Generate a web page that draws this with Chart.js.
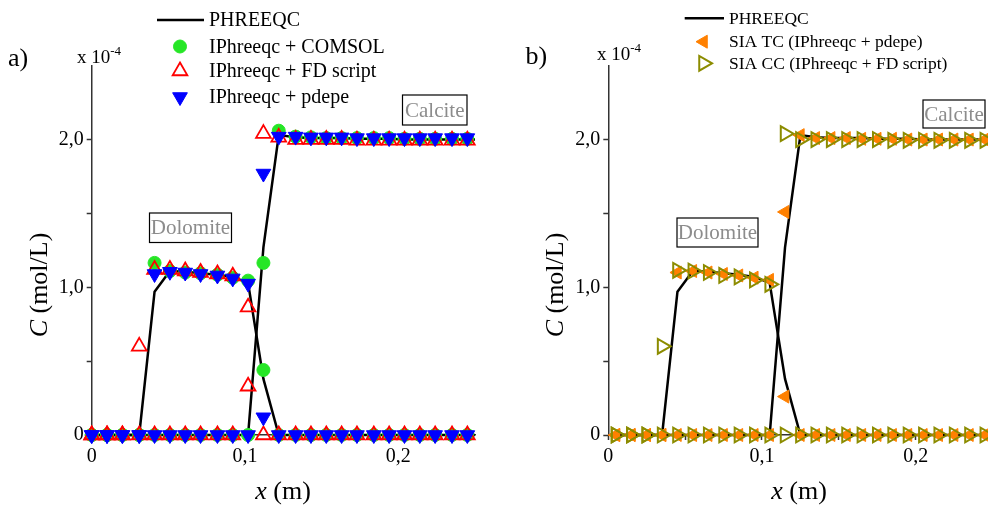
<!DOCTYPE html>
<html lang="en">
<head>
<meta charset="UTF-8">
<title>Dolomita y calcita - PHREEQC vs IPhreeqc</title>
<script src="https://cdn.jsdelivr.net/npm/chart.js"></script>
<style>
  html, body { margin: 0; padding: 0; background: #fff; }
  body { width: 988px; height: 505px; overflow: hidden; position: relative; }
  canvas { position: absolute; top: 0; }
  #chartA { left: 0; }
  #chartB { left: 494px; }
</style>
</head>
<body>
<canvas id="chartA" width="494" height="505"></canvas>
<canvas id="chartB" width="520" height="505"></canvas>
<script>
// ---- data, C in 10^-4 mol/L ----
// panel a) grid
const xA = [0, 0.010, 0.020, 0.031, 0.041, 0.051, 0.061, 0.071, 0.082, 0.092, 0.102, 0.112, 0.122,
            0.133, 0.143, 0.153, 0.163, 0.173, 0.184, 0.194, 0.204, 0.214, 0.224, 0.235, 0.245];
// panel b) grid
const xB = [0.005, 0.015, 0.025, 0.035, 0.045, 0.055, 0.065, 0.075, 0.085, 0.095, 0.105, 0.115, 0.125,
            0.135, 0.145, 0.155, 0.165, 0.175, 0.185, 0.195, 0.205, 0.215, 0.225, 0.235, 0.245];
const xEnd = [0.25];

// PHREEQC reference (last value = right end of the column)
const phreeqcDolomite = [0, 0, 0, 0, 0.97, 1.11, 1.105, 1.095, 1.085, 1.07, 1.03, 0.38, 0,
                         0, 0, 0, 0, 0, 0, 0, 0, 0, 0, 0, 0, 0];
const phreeqcCalcite  = [0, 0, 0, 0, 0, 0, 0, 0, 0, 0, 0, 1.27, 2.03,
                         2.015, 2.01, 2.01, 2.01, 2.005, 2.005, 2.005, 2.0, 2.0, 2.0, 2.0, 2.0, 2.0];

// a) IPhreeqc + COMSOL
const comsolDolomite = [0, 0, 0, 0, 1.165, 1.11, 1.10, 1.095, 1.085, 1.065, 1.045, 0.44, 0,
                        0, 0, 0, 0, 0, 0, 0, 0, 0, 0, 0, 0];
const comsolCalcite  = [0, 0, 0, 0, 0, 0, 0, 0, 0, 0, 0, 1.165, 2.06,
                        2.02, 2.015, 2.01, 2.01, 2.01, 2.01, 2.01, 2.005, 2.005, 2.005, 2.005, 2.005];
// a) IPhreeqc + FD script
const fdDolomite = [0, 0, 0, 0.60, 1.12, 1.12, 1.11, 1.10, 1.09, 1.075, 0.865, 0, 0,
                    0, 0, 0, 0, 0, 0, 0, 0, 0, 0, 0, 0];
const fdCalcite  = [0, 0, 0, 0, 0, 0, 0, 0, 0, 0, 0.33, 2.04, 2.015,
                    2.0, 2.0, 2.0, 2.0, 1.995, 1.995, 1.995, 1.995, 1.995, 1.995, 1.995, 1.995];
// a) IPhreeqc + pdepe
const pdepeDolomite = [0, 0, 0, 0, 1.09, 1.105, 1.10, 1.09, 1.08, 1.06, 1.025, 0.12, 0,
                       0, 0, 0, 0, 0, 0, 0, 0, 0, 0, 0, 0];
const pdepeCalcite  = [0, 0, 0, 0, 0, 0, 0, 0, 0, 0, 0, 1.77, 2.02,
                       2.02, 2.015, 2.015, 2.015, 2.01, 2.01, 2.01, 2.01, 2.01, 2.01, 2.01, 2.01];

// b) SIA TC (IPhreeqc + pdepe)
const tcDolomite = [0, 0, 0, 0, 1.10, 1.11, 1.10, 1.09, 1.08, 1.065, 1.05, 0.26, 0,
                    0, 0, 0, 0, 0, 0, 0, 0, 0, 0, 0, 0];
const tcCalcite  = [0, 0, 0, 0, 0, 0, 0, 0, 0, 0, 0, 1.51, 2.03,
                    2.01, 2.01, 2.01, 2.005, 2.005, 2.005, 2.0, 2.0, 2.0, 2.0, 2.0, 2.0];
// b) SIA CC (IPhreeqc + FD script)
const ccDolomite = [0, 0, 0, 0.60, 1.115, 1.11, 1.10, 1.08, 1.07, 1.05, 1.02, 0, 0,
                    0, 0, 0, 0, 0, 0, 0, 0, 0, 0, 0, 0];
const ccCalcite  = [0, 0, 0, 0, 0, 0, 0, 0, 0, 0, 0, 2.04, 2.0,
                    2.0, 2.0, 2.0, 2.0, 2.0, 1.995, 1.995, 1.995, 1.995, 1.995, 1.995, 1.995];

// axes
const xTickValues = [0, 0.05, 0.1, 0.15, 0.2];
const xTickLabels = ['0', '', '0,1', '', '0,2'];
const yTickValues = [0, 0.5, 1, 1.5, 2];
const yTickLabels = ['0', '', '1,0', '', '2,0'];

const SERIF = "'Liberation Serif', 'Times New Roman', serif";
Chart.defaults.font.family = SERIF;
Chart.defaults.color = '#000';

const pts = (xs, ys) => xs.map((x, i) => ({ x: x, y: ys[i] }));

const lineStyle = { showLine: true, borderColor: '#000', borderWidth: 2.5, pointRadius: 0, clip: false };
const comsolStyle = { pointStyle: 'circle', pointRadius: 6.5, backgroundColor: '#26e626', borderColor: '#26e626', borderWidth: 1, clip: false };
const fdStyle = { pointStyle: 'triangle', pointRadius: 8.5, backgroundColor: 'rgba(0,0,0,0)', borderColor: '#ff0000', borderWidth: 1.8, clip: false };
const pdepeStyle = { pointStyle: 'triangle', pointRotation: 180, pointRadius: 8.5, backgroundColor: '#0000ff', borderColor: '#0000ff', borderWidth: 1, clip: false };
const tcStyle = { pointStyle: 'triangle', pointRotation: 270, pointRadius: 7.5, backgroundColor: '#ff8000', borderColor: '#ff8000', borderWidth: 1, clip: false };
const ccStyle = { pointStyle: 'triangle', pointRotation: 90, pointRadius: 8.5, backgroundColor: 'rgba(0,0,0,0)', borderColor: '#8c8c00', borderWidth: 2, clip: false };

// draws legend, boxed labels, axis titles and panel tags
const decorPlugin = {
  id: 'decor',
  afterDraw(chart, args, o) {
    const ctx = chart.ctx;
    ctx.save();
    ctx.fillStyle = '#000';
    ctx.textBaseline = 'alphabetic';
    ctx.textAlign = 'left';

    // panel tag
    ctx.font = '26px ' + SERIF;
    ctx.fillText(o.tag, o.tagX, o.tagY);

    // x 10^-4
    ctx.font = '19px ' + SERIF;
    ctx.fillText('x 10', o.expX, o.expY);
    const w = ctx.measureText('x 10').width;
    ctx.font = '13px ' + SERIF;
    ctx.fillText('-4', o.expX + w, o.expY - 8);

    // legend
    const lg = o.legend;
    ctx.textBaseline = 'middle';
    lg.rows.forEach((row, i) => {
      const ds = chart.data.datasets[row.ds];
      const y = lg.ys[i];
      if (ds.showLine) {
        ctx.strokeStyle = ds.borderColor;
        ctx.lineWidth = ds.borderWidth;
        ctx.beginPath();
        ctx.moveTo(lg.lineX0, y);
        ctx.lineTo(lg.lineX1, y);
        ctx.stroke();
      } else {
        ctx.fillStyle = ds.backgroundColor;
        ctx.strokeStyle = ds.borderColor;
        ctx.lineWidth = ds.borderWidth;
        Chart.helpers.drawPoint(ctx, {
          pointStyle: ds.pointStyle, radius: ds.pointRadius,
          rotation: ds.pointRotation || 0, borderWidth: ds.borderWidth
        }, lg.markX, y);
      }
      ctx.fillStyle = '#000';
      ctx.font = lg.font + 'px ' + SERIF;
      ctx.fillText(row.text, lg.textX, y + 1);
    });

    // boxed labels
    ctx.textAlign = 'center';
    o.boxes.forEach(b => {
      ctx.strokeStyle = '#000';
      ctx.lineWidth = 1.2;
      ctx.strokeRect(b.x, b.y, b.w, b.h);
      ctx.fillStyle = '#8c8c8c';
      ctx.font = '21px ' + SERIF;
      ctx.fillText(b.text, b.x + b.w / 2, b.y + b.h / 2 + 1);
    });

    // axis titles with italic symbol
    const mixed = (sym, rest, cx, cy, rot) => {
      ctx.save();
      ctx.translate(cx, cy);
      ctx.rotate(rot);
      ctx.fillStyle = '#000';
      ctx.textAlign = 'left';
      ctx.textBaseline = 'alphabetic';
      ctx.font = 'italic 26px ' + SERIF;
      const w1 = ctx.measureText(sym).width;
      ctx.font = '26px ' + SERIF;
      const w2 = ctx.measureText(rest).width;
      const x0 = -(w1 + w2) / 2;
      ctx.font = 'italic 26px ' + SERIF;
      ctx.fillText(sym, x0, 0);
      ctx.font = '26px ' + SERIF;
      ctx.fillText(rest, x0 + w1, 0);
      ctx.restore();
    };
    mixed('C', ' (mol/L)', o.yTitleX, o.yTitleY, -Math.PI / 2);
    mixed('x', ' (m)', o.xTitleX, o.xTitleY, 0);
    ctx.restore();
  }
};

function makeScales(yWidth) {
  const axisColor = '#333';
  return {
    x: {
      type: 'linear', min: 0, max: 0.25,
      border: { display: true, color: axisColor, width: 1.5 },
      grid: { display: true, drawOnChartArea: false, drawTicks: true, tickLength: 5, tickColor: axisColor, tickWidth: 1.5 },
      ticks: { autoSkip: false, maxRotation: 0, padding: 5, font: { size: 20 },
               callback: (v, i) => xTickLabels[i] },
      afterBuildTicks: s => { s.ticks = xTickValues.map(v => ({ value: v })); },
      afterFit: s => { s.height = 70; }
    },
    y: {
      type: 'linear', min: 0, max: 2.5,
      border: { display: true, color: axisColor, width: 1.5 },
      grid: { display: true, drawOnChartArea: false, drawTicks: true, tickLength: 5, tickColor: axisColor, tickWidth: 1.5 },
      ticks: { autoSkip: false, padding: 3, font: { size: 20 },
               callback: (v, i) => yTickLabels[i] },
      afterBuildTicks: s => { s.ticks = yTickValues.map(v => ({ value: v })); },
      afterFit: s => { s.width = yWidth; }
    }
  };
}

const baseOptions = (yWidth, padRight, decor) => ({
  responsive: false,
  animation: false,
  devicePixelRatio: 1,
  events: [],
  layout: { padding: { left: 0, top: 65.7, right: padRight, bottom: 0 } },
  scales: makeScales(yWidth),
  plugins: { legend: { display: false }, tooltip: { enabled: false }, decor: decor }
});

// ---- panel a) ----
new Chart(document.getElementById('chartA'), {
  type: 'scatter',
  plugins: [decorPlugin],
  data: {
    datasets: [
      Object.assign({ label: 'IPhreeqc + pdepe', data: pts(xA, pdepeDolomite), order: 1 }, pdepeStyle),
      Object.assign({ label: 'IPhreeqc + pdepe', data: pts(xA, pdepeCalcite), order: 1 }, pdepeStyle),
      Object.assign({ label: 'IPhreeqc + FD script', data: pts(xA, fdDolomite), order: 2 }, fdStyle),
      Object.assign({ label: 'IPhreeqc + FD script', data: pts(xA, fdCalcite), order: 2 }, fdStyle),
      Object.assign({ label: 'IPhreeqc + COMSOL', data: pts(xA, comsolDolomite), order: 3 }, comsolStyle),
      Object.assign({ label: 'IPhreeqc + COMSOL', data: pts(xA, comsolCalcite), order: 3 }, comsolStyle),
      Object.assign({ label: 'PHREEQC', data: pts(xA.concat(xEnd), phreeqcDolomite), order: 4 }, lineStyle),
      Object.assign({ label: 'PHREEQC', data: pts(xA.concat(xEnd), phreeqcCalcite), order: 4 }, lineStyle)
    ]
  },
  options: baseOptions(91.7, 19, {
    tag: 'a)', tagX: 8, tagY: 66,
    expX: 77, expY: 63,
    legend: {
      lineX0: 157, lineX1: 204, markX: 180, textX: 209, font: 20,
      ys: [20, 46.5, 71, 97],
      rows: [{ ds: 6, text: 'PHREEQC' }, { ds: 4, text: 'IPhreeqc + COMSOL' },
             { ds: 2, text: 'IPhreeqc + FD script' }, { ds: 0, text: 'IPhreeqc + pdepe' }]
    },
    boxes: [{ text: 'Dolomite', x: 149.5, y: 213, w: 82, h: 29.5 },
            { text: 'Calcite', x: 402.5, y: 95, w: 64.5, h: 30 }],
    yTitleX: 47, yTitleY: 285, xTitleX: 283, xTitleY: 499
  })
});

// ---- panel b) ----
new Chart(document.getElementById('chartB'), {
  type: 'scatter',
  plugins: [decorPlugin],
  data: {
    datasets: [
      Object.assign({ label: 'SIA CC (IPhreeqc + FD script)', data: pts(xB, ccDolomite), order: 1 }, ccStyle),
      Object.assign({ label: 'SIA CC (IPhreeqc + FD script)', data: pts(xB, ccCalcite), order: 1 }, ccStyle),
      Object.assign({ label: 'SIA TC (IPhreeqc + pdepe)', data: pts(xB, tcDolomite), order: 2 }, tcStyle),
      Object.assign({ label: 'SIA TC (IPhreeqc + pdepe)', data: pts(xB, tcCalcite), order: 2 }, tcStyle),
      Object.assign({ label: 'PHREEQC', data: pts(xB.concat(xEnd), phreeqcDolomite), order: 3 }, lineStyle),
      Object.assign({ label: 'PHREEQC', data: pts(xB.concat(xEnd), phreeqcCalcite), order: 3 }, lineStyle)
    ]
  },
  options: baseOptions(114.3, 21.5, {
    tag: 'b)', tagX: 31.5, tagY: 64,
    expX: 103, expY: 60,
    legend: {
      lineX0: 190.7, lineX1: 230, markX: 209.5, textX: 235, font: 17.5,
      ys: [18.3, 41.7, 63.3],
      rows: [{ ds: 4, text: 'PHREEQC' }, { ds: 2, text: 'SIA TC (IPhreeqc + pdepe)' },
             { ds: 0, text: 'SIA CC (IPhreeqc + FD script)' }]
    },
    boxes: [{ text: 'Dolomite', x: 183, y: 218, w: 81, h: 29 },
            { text: 'Calcite', x: 429, y: 100, w: 62, h: 28 }],
    yTitleX: 69, yTitleY: 285, xTitleX: 305, xTitleY: 499
  })
});
</script>
</body>
</html>
